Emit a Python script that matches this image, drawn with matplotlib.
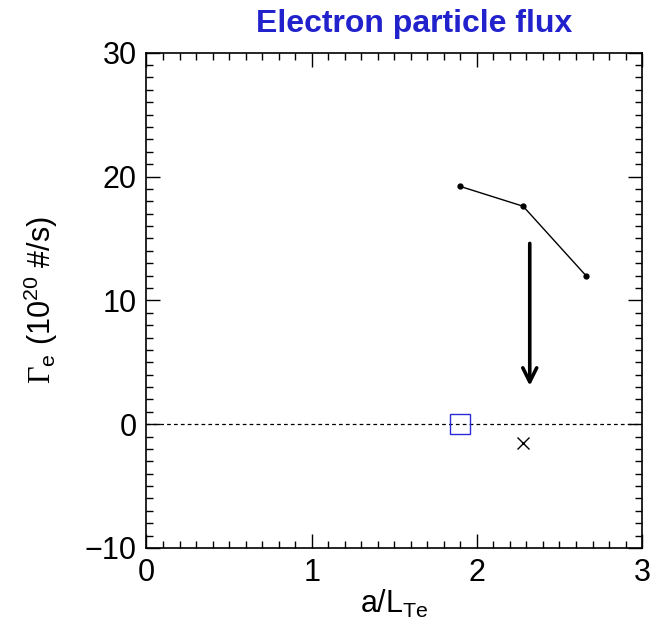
import matplotlib

matplotlib.use("Agg")
import matplotlib.pyplot as plt
from matplotlib.ticker import MultipleLocator

# data
scan_x = [1.90, 2.28, 2.66]
scan_flux = [19.2, 17.6, 12.0]
exp_x = [1.90]
exp_flux = [0.0]
cross_x = [2.28]
cross_flux = [-1.5]
arrow_x = 2.32
arrow_from = 14.6
arrow_to = 3.1

plt.rcParams["font.family"] = ["Liberation Sans", "DejaVu Sans"]
plt.rcParams["mathtext.fontset"] = "custom"
plt.rcParams["mathtext.rm"] = "Liberation Serif"
plt.rcParams["mathtext.sf"] = "Liberation Sans"

fig = plt.figure(figsize=(6.64, 6.33), dpi=100)
ax = fig.add_axes([0.2206, 0.1343, 0.7464, 0.7824])

ax.axhline(0, color="black", lw=0.9, ls=(0, (3, 2.5)))
ax.plot(scan_x, scan_flux, "-o", color="black", lw=1.0, ms=3.5)
ax.plot(exp_x, exp_flux, "s", mfc="none", mec="#2a2ad8", ms=15, mew=1.0)
ax.plot(cross_x, cross_flux, "x", color="black", ms=9, mew=1.0)
ax.annotate("", xy=(arrow_x, arrow_to), xytext=(arrow_x, arrow_from),
            arrowprops=dict(arrowstyle="->,head_length=1.0,head_width=0.5",
                            color="black", lw=2.6, shrinkA=0, shrinkB=0))

ax.set_xlim(0, 3)
ax.set_ylim(-10, 30)
ax.xaxis.set_major_locator(MultipleLocator(1))
ax.xaxis.set_minor_locator(MultipleLocator(0.1))
ax.yaxis.set_major_locator(MultipleLocator(10))
ax.yaxis.set_minor_locator(MultipleLocator(1))
ax.tick_params(which="both", direction="in", top=True, right=True, width=1.0)
ax.tick_params(which="major", length=10, labelsize=22, pad=7)
ax.tick_params(which="minor", length=5)
for s in ax.spines.values():
    s.set_linewidth(1.2)

ax.set_xlabel(r"a/L$_{\mathsf{Te}}$", fontsize=22, labelpad=0)
ax.set_ylabel(r"$\Gamma_{\mathsf{e}}$ (10$^{\mathsf{20}}$ #/s)", fontsize=22, labelpad=18)
fig.text(0.623, 0.962, "Electron particle flux", color="#2222cc",
         fontsize=23, fontweight="bold", ha="center", va="center")

fig.savefig("out.png", dpi=100)
